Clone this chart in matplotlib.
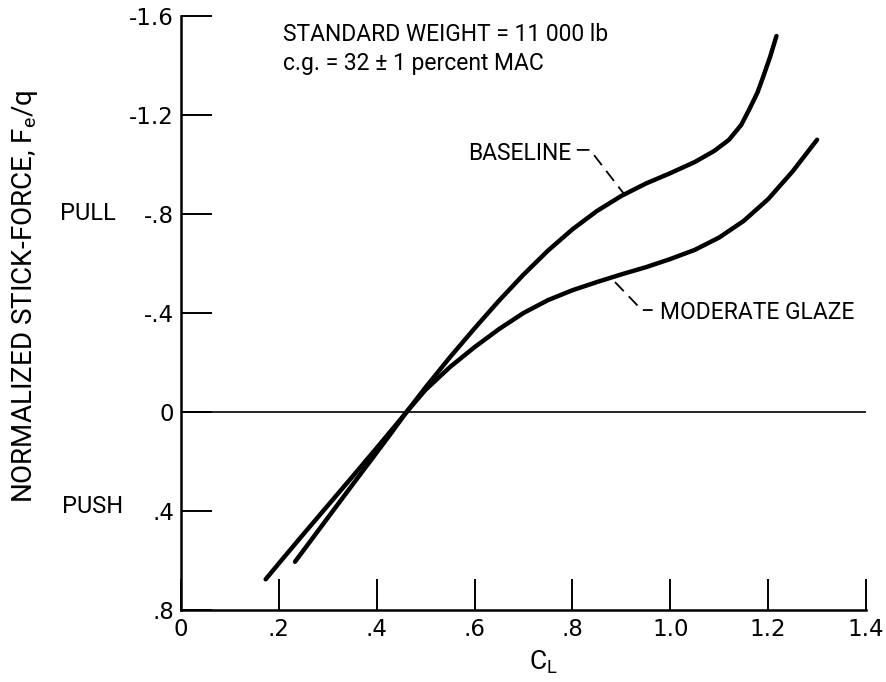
"""Normalized stick force vs lift coefficient, baseline vs moderate glaze ice."""
import matplotlib
matplotlib.use("Agg")
import matplotlib.pyplot as plt
from matplotlib.transforms import blended_transform_factory

TXT = ["Roboto", "DejaVu Sans"]

# (C_L, Fe/q); negative = pull
baseline_cl = [0.233, 0.27, 0.31, 0.35, 0.39, 0.43, 0.461, 0.50, 0.55, 0.60, 0.65,
               0.70, 0.75, 0.80, 0.85, 0.90, 0.95, 1.00, 1.05, 1.09, 1.12, 1.145,
               1.162, 1.178, 1.19, 1.204, 1.217]
baseline_f = [0.605, 0.507, 0.401, 0.295, 0.190, 0.084, 0.0, -0.100, -0.222, -0.338,
              -0.450, -0.555, -0.652, -0.738, -0.812, -0.873, -0.923, -0.965, -1.010,
              -1.055, -1.100, -1.160, -1.225, -1.290, -1.355, -1.435, -1.519]

glaze_cl = [0.173, 0.21, 0.25, 0.30, 0.35, 0.40, 0.43, 0.461, 0.50, 0.55, 0.60, 0.65,
            0.70, 0.75, 0.80, 0.85, 0.90, 0.95, 1.00, 1.05, 1.10, 1.15, 1.20, 1.25, 1.30]
glaze_f = [0.676, 0.588, 0.494, 0.378, 0.262, 0.145, 0.074, 0.0, -0.090, -0.182,
           -0.262, -0.335, -0.400, -0.452, -0.492, -0.525, -0.556, -0.585, -0.618,
           -0.655, -0.705, -0.772, -0.860, -0.972, -1.100]

xticks = [0.0, 0.2, 0.4, 0.6, 0.8, 1.0, 1.2, 1.4]
xtick_labels = ["0", ".2", ".4", ".6", ".8", "1.0", "1.2", "1.4"]
yticks = [-1.6, -1.2, -0.8, -0.4, 0.0, 0.4, 0.8]
ytick_labels = ["-1.6", "-1.2", "-.8", "-.4", "0", ".4", ".8"]

W, H = 886, 682
fig = plt.figure(figsize=(W / 100, H / 100), dpi=100)
ax = fig.add_axes([181 / W, 1 - 610 / H, 685 / W, 594 / H])

ax.set_xlim(0, 1.4)
ax.set_ylim(0.8, -1.6)
for s in ("top", "right"):
    ax.spines[s].set_visible(False)
for s in ("left", "bottom"):
    ax.spines[s].set_linewidth(1.8)

ax.axhline(0, color="k", lw=1.2)
ax.plot(baseline_cl, baseline_f, color="k", lw=3.2, solid_capstyle="round",
        solid_joinstyle="round")
ax.plot(glaze_cl, glaze_f, color="k", lw=3.2, solid_capstyle="round",
        solid_joinstyle="round")

ax.set_xticks(xticks)
ax.set_xticklabels(xtick_labels)
ax.set_yticks(yticks)
ax.set_yticklabels(ytick_labels)
ax.tick_params(direction="in", length=22, width=1.4, labelsize=16.5)
ax.tick_params(axis="x", pad=6)
ax.tick_params(axis="y", pad=5)

ax.set_xlabel("C$_\\mathregular{L}$", fontsize=19, fontfamily=TXT, va="top")
ax.xaxis.set_label_coords((543 - 181) / 685, -0.064)

fig.text(25 / W, 1 - 296 / H, "NORMALIZED STICK-FORCE, F$_\\mathregular{e}$/q",
         rotation=90, ha="center", va="center", fontsize=20, fontfamily=TXT)

bt = blended_transform_factory(fig.transFigure, ax.transData)
ax.text(60 / W, -0.8, "PULL", transform=bt, ha="left", va="center",
        fontsize=17, fontfamily=TXT)
ax.text(62 / W, 0.38, "PUSH", transform=bt, ha="left", va="center",
        fontsize=17, fontfamily=TXT)

ax.text(0.208, -1.527, "STANDARD WEIGHT = 11 000 lb", ha="left", va="center",
        fontsize=16.5, fontfamily=TXT)
ax.text(0.208, -1.41, "c.g. = 32 \u00b1 1 percent MAC", ha="left", va="center",
        fontsize=16.5, fontfamily=TXT)

ax.text(0.586, -1.046, "BASELINE", ha="left", va="center", fontsize=16.5, fontfamily=TXT)
ax.plot([0.809, 0.836, 0.907], [-1.059, -1.059, -0.877], color="k", lw=1.3,
        ls=(0, (7, 4)))
ax.text(0.979, -0.404, "MODERATE GLAZE", ha="left", va="center", fontsize=16.5,
        fontfamily=TXT)
ax.plot([0.887, 0.942, 0.964], [-0.525, -0.412, -0.412], color="k", lw=1.3,
        ls=(0, (7, 4)))

fig.savefig("out.png", dpi=100, facecolor="white")
